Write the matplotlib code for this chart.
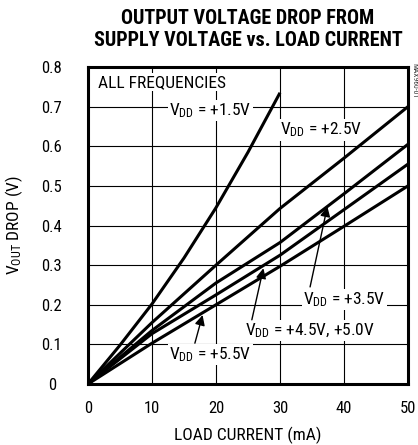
import numpy as np
import matplotlib
matplotlib.use("Agg")
from matplotlib import pyplot as plt

plt.rcParams['font.family'] = ['Roboto Condensed', 'Archivo Narrow', 'PT Sans Narrow',
                               'Liberation Sans Narrow', 'DejaVu Sans']
plt.rcParams['mathtext.default'] = 'regular'

# load current (mA) and output voltage drop (V)
i_15 = [0, 5, 10, 15, 20, 25, 30]
v_15 = [0, 0.098, 0.202, 0.318, 0.445, 0.585, 0.735]

i_all = [0, 10, 20, 30, 40, 50]
v_25 = [0, 0.155, 0.30, 0.443, 0.57, 0.70]
v_35 = [0, 0.135, 0.255, 0.357, 0.48, 0.605]
v_45 = [0, 0.127, 0.225, 0.325, 0.44, 0.555]
v_55 = [0, 0.103, 0.200, 0.297, 0.398, 0.50]

x_ticks = [0, 10, 20, 30, 40, 50]
y_ticks = [0, 0.1, 0.2, 0.3, 0.4, 0.5, 0.6, 0.7, 0.8]
y_labels = ['0', '0.1', '0.2', '0.3', '0.4', '0.5', '0.6', '0.7', '0.8']

fig = plt.figure(figsize=(4.18, 4.45), dpi=100)
ax = fig.add_axes([88/418, 61/445, 320/418, 317/445])

for xs, ys in [(i_15, v_15), (i_all, v_25), (i_all, v_35), (i_all, v_45), (i_all, v_55)]:
    ax.plot(xs, ys, color='black', lw=2.2, zorder=5, solid_capstyle='butt')

ax.set_xlim(0, 50)
ax.set_ylim(0, 0.8)
ax.set_xticks(x_ticks)
ax.set_yticks(y_ticks)
ax.set_yticklabels(y_labels)
ax.grid(True, color='black', lw=0.8, zorder=1)
ax.set_axisbelow(True)
ax.tick_params(axis='x', length=0, pad=12, labelsize=12)
ax.tick_params(axis='y', length=0, pad=26, labelsize=12)
for lbl in ax.get_yticklabels():
    lbl.set_horizontalalignment('center')
for s in ax.spines.values():
    s.set_linewidth(2.2)
    s.set_zorder(10)

ax.set_xlabel('LOAD CURRENT (mA)', fontsize=12.5)
ax.xaxis.set_label_coords(0.5, -0.136)
ax.set_ylabel('V$_{OUT}$ DROP (V)', fontsize=12.5)
ax.yaxis.set_label_coords(-0.197, 0.5)

box = dict(facecolor='white', edgecolor='none', pad=1.0)
tk = dict(fontsize=12.5, ha='center', va='baseline', zorder=4, bbox=box)

ax.text(1.5, 0.75, 'ALL FREQUENCIES', ha='left', va='baseline', fontsize=12.5, zorder=4, bbox=box)
ax.text(19.1, 0.679, 'V$_{DD}$ = +1.5V', **tk)
ax.text(36.4, 0.629, 'V$_{DD}$ = +2.5V', **tk)
ax.text(40.1, 0.202, 'V$_{DD}$ = +3.5V', **tk)
ax.text(34.7, 0.124, 'V$_{DD}$ = +4.5V, +5.0V', **tk)
ax.text(19.1, 0.063, 'V$_{DD}$ = +5.5V', **tk)

arrow = dict(arrowstyle='-|>', color='black', lw=1.0, mutation_scale=15, shrinkA=0, shrinkB=0)
ax.annotate('', xy=(37.4, 0.448), xytext=(34.7, 0.245), arrowprops=arrow, zorder=6)
ax.annotate('', xy=(27.4, 0.292), xytext=(25.6, 0.162), arrowprops=arrow, zorder=6)
ax.annotate('', xy=(17.9, 0.174), xytext=(16.7, 0.103), arrowprops=arrow, zorder=6)

fig.text(248/418, 1 - 24/445, 'OUTPUT VOLTAGE DROP FROM', ha='center', va='baseline',
         fontsize=14.5, fontweight='heavy')
fig.text(248/418, 1 - 46/445, 'SUPPLY VOLTAGE vs. LOAD CURRENT', ha='center', va='baseline',
         fontsize=14.5, fontweight='heavy')
fig.text(414/418, 1 - 81/445, 'MAX960-01', rotation=270, ha='center', va='center',
         fontsize=5.5, color='#333333')

fig.savefig('out.png', dpi=100)
